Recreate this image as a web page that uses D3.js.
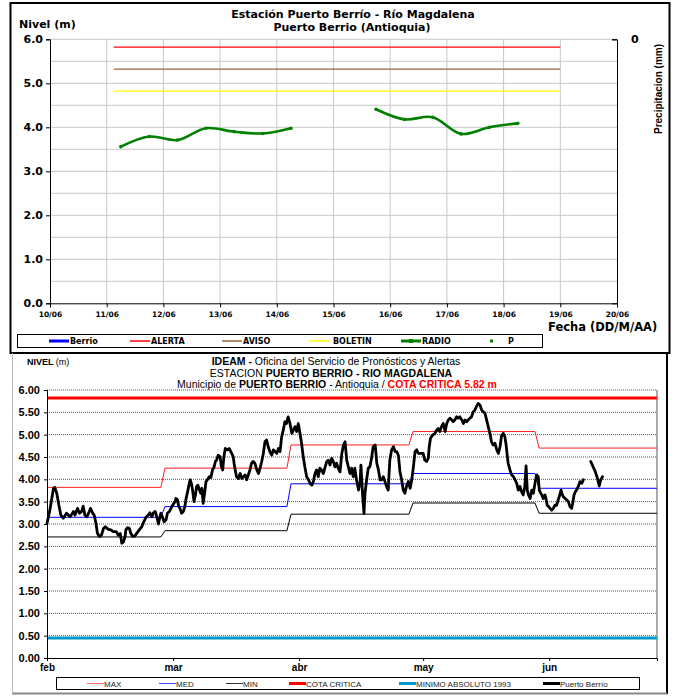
<!DOCTYPE html>
<html>
<head>
<meta charset="utf-8">
<script src="https://cdn.jsdelivr.net/npm/d3@7"></script>
<style>
  body { margin: 0; background: #fff; }
  text { font-family: "Liberation Sans", Arial, sans-serif; }
  .dv { font-family: "DejaVu Sans", Verdana, sans-serif; font-weight: bold; }
</style>
</head>
<body>
<div id="chart"></div>
<script>
// ---------- Panel superior: nivel horario junio ----------
const diasTicks = ["2010-06-10","2010-06-11","2010-06-12","2010-06-13","2010-06-14","2010-06-15",
                   "2010-06-16","2010-06-17","2010-06-18","2010-06-19","2010-06-20"];
const radioFechas = ["2010-06-11 06:00","2010-06-11 18:00","2010-06-12 06:00","2010-06-12 18:00",
                     "2010-06-13 06:00","2010-06-13 18:00","2010-06-14 06:00","2010-06-14 18:00",
                     "2010-06-15 06:00","2010-06-15 18:00","2010-06-16 06:00","2010-06-16 18:00",
                     "2010-06-17 06:00","2010-06-17 18:00","2010-06-18 06:00"];
const radioNivel = [3.56, 3.79, 3.71, 3.98, 3.90, 3.86, 3.98, null, null, 4.41, 4.18, 4.23, 3.85, 4.00, 4.09];
const umbralNombre = ["ALERTA", "AVISO", "BOLETIN"];
const umbralValor = [5.82, 5.32, 4.82];
const umbralDesde = "2010-06-11 03:00";
const umbralHasta = "2010-06-19 00:00";
const nivelTicksTop = [0, 1, 2, 3, 4, 5, 6];
const legendaTop = ["Berrio", "ALERTA", "AVISO", "BOLETIN", "RADIO", "P"];

// ---------- Panel inferior: serie diaria feb-jun (dia del año) ----------
const mesesEtiq = ["feb", "mar", "abr", "may", "jun"];
const mesesTickDia = [31, 62, 93, 123.5, 154.5];
const mesesInicio = [31, 60, 91, 121, 152];
const mesesFin = [59, 90, 120, 151, 181];
const nivelMax = [3.82, 4.25, 4.77, 5.07, 4.70];
const nivelMed = [3.15, 3.39, 3.90, 4.13, 3.80];
const nivelMin = [2.71, 2.85, 3.22, 3.47, 3.24];
const cotaCritica = 5.82;
const minimoAbs1993 = 0.45;
const berrioDia = [
  31.0,31.7,32.6,32.9,33.4,33.9,34.4,35.0,35.8,36.7,37.5,37.9,38.5,39.0,39.5,39.9,40.3,40.8,41.4,41.7,
  42.2,42.6,43.05,43.4,43.9,44.4,44.9,45.35,46.1,46.7,47.3,48.0,48.55,49.0,49.4,49.8,50.2,50.4,50.8,51.25,
  51.6,52.1,52.6,53.05,53.7,54.3,54.7,55.35,55.9,56.3,56.8,57.15,57.6,58.0,58.4,58.6,59.0,59.4,59.8,60.3,
  60.6,61.1,61.7,62.1,62.5,62.7,63.05,63.4,63.7,64.1,64.5,64.9,65.2,65.5,65.9,66.2,66.5,66.8,67.15,67.5,
  67.8,68.1,68.5,68.8,69.1,69.4,69.8,70.1,70.5,70.9,71.3,71.7,72.1,72.4,72.7,73.1,73.55,73.9,74.2,74.5,
  74.85,75.35,75.8,76.2,76.8,77.0,77.2,77.6,78.05,78.5,78.9,79.3,79.7,80.1,80.5,80.9,81.3,81.7,82.1,82.6,
  83.0,83.4,83.8,84.2,84.6,85.0,85.4,85.8,86.25,86.65,87.1,87.5,87.9,88.3,88.7,89.1,89.5,89.9,90.3,90.75,
  91.2,91.6,92.0,92.4,92.8,93.2,93.6,94.0,94.4,94.85,95.3,95.7,96.1,96.5,96.9,97.3,97.7,98.1,98.5,98.95,
  99.4,99.8,100.2,100.6,101.0,101.4,101.8,102.2,102.6,103.05,103.5,103.9,104.3,104.7,105.1,105.5,105.9,106.3,106.7,107.1,
  107.6,108.0,108.2,108.6,108.95,109.2,109.6,110.0,110.4,110.8,111.2,111.7,112.1,112.5,112.9,113.3,113.7,114.1,114.5,114.9,
  115.3,115.75,116.2,116.6,117.0,117.4,117.8,118.2,118.6,119.0,119.4,119.85,120.3,120.7,121.1,121.5,121.9,122.3,123.5,123.9,
  124.35,124.75,125.0,125.3,125.8,126.4,126.8,127.2,127.6,128.0,128.45,128.9,129.3,129.7,130.1,130.5,130.9,131.3,131.7,132.1,
  132.5,133.0,133.4,133.8,134.2,134.6,135.0,135.4,135.8,136.2,136.6,137.05,137.5,137.9,138.3,138.7,139.1,139.5,139.9,140.3,
  140.7,141.15,141.6,142.0,142.4,142.8,143.2,143.6,143.9,144.2,144.4,144.85,145.25,145.7,146.1,146.5,146.9,147.3,147.7,148.1,
  148.5,148.8,149.1,149.4,149.8,150.2,150.6,151.0,151.4,151.8,152.05,152.4,152.7,153.0,153.45,153.7,154.0,154.35,154.7,155.1,
  155.5,155.9,156.3,156.7,157.1,157.4,157.6,157.95,158.4,158.8,159.2,159.6,160.0,160.25,160.6,160.9,161.2,161.65,162.05,162.5,
  162.9,163.8,164.7,165.75,166.3,166.8,167.1,167.6
];
const berrioNivel = [
  3.01,3.31,3.80,3.82,3.69,3.43,3.20,3.13,3.24,3.16,3.28,3.20,3.35,3.24,3.28,3.40,3.20,3.16,3.28,3.35,
  3.25,3.20,3.01,2.79,2.72,2.75,2.90,2.94,2.88,2.87,2.83,2.83,2.75,2.79,2.57,2.60,2.72,2.87,2.92,2.90,
  2.79,2.72,2.73,2.79,2.87,2.94,3.03,3.15,3.20,3.25,3.16,3.25,3.28,3.16,3.00,3.09,3.24,3.15,3.05,3.10,
  3.24,3.28,3.39,3.45,3.50,3.57,3.55,3.39,3.35,3.24,3.28,3.39,3.57,3.69,3.87,3.99,3.91,3.76,3.50,3.65,
  3.84,3.87,3.76,3.69,3.80,3.46,3.72,3.95,4.00,4.06,4.04,4.21,4.28,4.40,4.43,4.54,4.51,4.28,4.21,4.51,
  4.69,4.66,4.69,4.62,4.51,4.36,4.25,4.06,4.02,4.13,4.02,4.06,4.10,3.99,4.10,4.21,4.36,4.40,4.36,4.21,
  4.13,4.25,4.40,4.58,4.84,4.88,4.73,4.62,4.54,4.66,4.62,4.58,4.69,4.62,4.95,5.10,5.29,5.25,5.40,5.25,
  5.03,5.10,5.18,5.07,5.25,5.03,4.81,4.51,4.28,4.06,3.99,3.91,3.87,3.95,4.13,4.21,4.06,4.25,4.21,4.13,
  4.28,4.40,4.43,4.32,4.47,4.40,4.28,4.36,4.25,4.17,4.58,4.77,4.84,4.43,4.28,4.13,4.25,4.06,4.25,3.99,
  3.76,3.95,4.32,3.65,3.24,3.69,3.99,4.25,4.28,4.47,4.73,4.77,4.36,4.21,3.99,3.99,4.06,3.95,3.84,3.76,
  4.43,4.66,4.73,4.62,4.62,4.54,4.17,3.99,3.76,3.69,3.84,3.95,3.80,3.99,4.28,4.62,4.66,4.58,4.58,4.43,
  4.40,4.47,4.73,4.92,4.99,5.03,5.10,5.14,5.07,5.18,5.25,5.07,5.25,5.33,5.37,5.33,5.29,5.33,5.40,5.37,
  5.40,5.33,5.25,5.33,5.29,5.33,5.37,5.40,5.51,5.55,5.63,5.70,5.66,5.55,5.51,5.48,5.33,5.18,5.03,4.84,
  4.77,4.81,4.66,4.58,4.73,4.99,5.03,4.95,4.77,4.51,4.36,4.21,4.10,4.06,3.99,3.91,3.76,3.84,3.72,3.65,
  3.84,4.30,3.76,3.65,3.57,3.76,3.69,3.91,4.10,4.06,3.76,3.69,3.65,3.57,3.65,3.57,3.42,3.39,3.35,3.31,
  3.35,3.42,3.42,3.54,3.65,3.76,3.69,3.61,3.57,3.54,3.50,3.39,3.35,3.46,3.65,3.72,3.76,3.84,3.95,3.91,
  3.99,null,4.40,4.19,4.04,3.85,3.97,4.06
];
const nivelTicksBot = d3.range(0, 6.01, 0.5);
const legendaBot = ["MAX", "MED", "MIN", "COTA CRITICA", "MINIMO ABSOLUTO 1993", "Puerto Berrío"];

const W = 677, H = 696;
const svg = d3.select("#chart").append("svg").attr("width", W).attr("height", H);
const parse = d3.timeParse("%Y-%m-%d %H:%M");
const parseDia = d3.timeParse("%Y-%m-%d");

// ================= TOP PANEL =================
const pTop = svg.append("g");
pTop.append("rect").attr("x", 10.5).attr("y", 3).attr("width", 659).attr("height", 350)
  .attr("fill", "none").attr("stroke", "#000").attr("stroke-width", 2);

const xT = d3.scaleTime()
  .domain([parseDia(diasTicks[0]), parseDia(diasTicks[diasTicks.length - 1])])
  .range([50, 617]);
const yT = d3.scaleLinear().domain([0, 6]).range([303.3, 39.3]);

// grid
pTop.append("g").selectAll("line").data(d3.range(0.5, 6.01, 0.5)).join("line")
  .attr("x1", 50).attr("x2", 617).attr("y1", d => yT(d)).attr("y2", d => yT(d))
  .attr("stroke", "#c8c8c8");
pTop.append("g").selectAll("line").data(diasTicks.slice(1, -1)).join("line")
  .attr("x1", d => xT(parseDia(d))).attr("x2", d => xT(parseDia(d)))
  .attr("y1", yT(6)).attr("y2", yT(0)).attr("stroke", "#c8c8c8");

const colUmbral = { ALERTA: "#ff0000", AVISO: "#996633", BOLETIN: "#ffff00" };
pTop.append("g").selectAll("line").data(umbralNombre).join("line")
  .attr("x1", xT(parse(umbralDesde))).attr("x2", xT(parse(umbralHasta)))
  .attr("y1", (d, i) => yT(umbralValor[i])).attr("y2", (d, i) => yT(umbralValor[i]))
  .attr("stroke", d => colUmbral[d]).attr("stroke-width", 1.2);

const radio = radioFechas.map((f, i) => ({ t: parse(f), v: radioNivel[i] }));
pTop.append("path").datum(radio)
  .attr("fill", "none").attr("stroke", "#008000").attr("stroke-width", 2.6)
  .attr("d", d3.line().defined(d => d.v != null).x(d => xT(d.t)).y(d => yT(d.v))
    .curve(d3.curveCatmullRom.alpha(0.5)));
pTop.append("g").selectAll("circle").data(radio.filter(d => d.v != null)).join("circle")
  .attr("cx", d => xT(d.t)).attr("cy", d => yT(d.v)).attr("r", 1.8).attr("fill", "#008000");

// axes
const axL = pTop.append("g").attr("transform", "translate(50,0)")
  .call(d3.axisLeft(yT).tickValues(nivelTicksTop).tickFormat(d3.format(".1f")).tickSize(4).tickPadding(3));
axL.selectAll("text").attr("class", "dv").style("font-size", "11px");
const axB = pTop.append("g").attr("transform", `translate(0,${yT(0)})`)
  .call(d3.axisBottom(xT).tickValues(diasTicks.map(parseDia)).tickFormat(d3.timeFormat("%d/%m")).tickSize(4).tickPadding(4));
axB.selectAll("text").attr("class", "dv").style("font-size", "7.5px");
const yP = d3.scaleLinear().domain([0, 1]).range([yT(6), yT(0)]);
const axR = pTop.append("g").attr("transform", "translate(617,0)")
  .call(d3.axisRight(yP).tickValues([0]).tickFormat(d3.format("d")).tickSize(-5).tickPadding(14));
axR.selectAll("text").attr("class", "dv").style("font-size", "11px");
pTop.selectAll(".domain, .tick line").attr("stroke", "#000");

pTop.append("text").attr("class", "dv").attr("x", 19).attr("y", 28).style("font-size", "11px").text("Nivel (m)");
pTop.append("text").attr("class", "dv").attr("x", 353).attr("y", 18).attr("text-anchor", "middle")
  .style("font-size", "11px").text("Estación Puerto Berrío - Río Magdalena");
pTop.append("text").attr("class", "dv").attr("x", 352).attr("y", 31).attr("text-anchor", "middle")
  .style("font-size", "11px").text("Puerto Berrio (Antioquia)");
pTop.append("text").attr("transform", "translate(662,89) rotate(-90)").attr("text-anchor", "middle")
  .style("font-size", "10px").style("font-weight", "bold").text("Precipitacion (mm)");
pTop.append("text").attr("class", "dv").attr("x", 548).attr("y", 331).style("font-size", "11.5px")
  .text("Fecha (DD/M/AA)");

// legend top
const lgT = pTop.append("g");
lgT.append("rect").attr("x", 17.5).attr("y", 334.5).attr("width", 525).attr("height", 13)
  .attr("fill", "#fff").attr("stroke", "#000");
const lgTpos = [49, 130, 222, 309, 401, 486];
const lgTcol = ["#0000ff", "#ff0000", "#996633", "#ffff00", "#008000", "#008000"];
legendaTop.forEach((name, i) => {
  const g = lgT.append("g").attr("transform", `translate(${lgTpos[i]},341)`);
  if (name === "P") {
    g.append("rect").attr("x", 4).attr("y", -1.5).attr("width", 3).attr("height", 3).attr("fill", lgTcol[i]);
    g.append("text").attr("class", "dv").attr("x", 22).attr("y", 3).style("font-size", "8px").text(name);
  } else {
    g.append("line").attr("x1", 0).attr("x2", 20).attr("stroke", lgTcol[i])
      .attr("stroke-width", name === "Berrio" || name === "RADIO" ? 3 : 1.5);
    if (name === "RADIO") g.append("rect").attr("x", 8).attr("y", -2).attr("width", 4).attr("height", 4).attr("fill", lgTcol[i]);
    g.append("text").attr("class", "dv").attr("x", name === "BOLETIN" ? 24 : 21).attr("y", 3).style("font-size", "8px").text(name);
  }
});

// ================= BOTTOM PANEL =================
const pBot = svg.append("g");
pBot.append("line").attr("x1", 667).attr("x2", 667).attr("y1", 353).attr("y2", 694).attr("stroke", "#000").attr("stroke-width", 2);
pBot.append("line").attr("x1", 12).attr("x2", 667).attr("y1", 693.5).attr("y2", 693.5).attr("stroke", "#888").attr("stroke-width", 2);
pBot.append("line").attr("x1", 12.5).attr("x2", 12.5).attr("y1", 353).attr("y2", 694).attr("stroke", "#bbb");

const xB = d3.scaleLinear().domain([31, 181]).range([47, 657]);
const yB = d3.scaleLinear().domain([0, 6]).range([658, 390]);

pBot.append("g").selectAll("line").data(nivelTicksBot.filter(d => d > 0)).join("line")
  .attr("x1", 47).attr("x2", 657).attr("y1", d => yB(d)).attr("y2", d => yB(d))
  .attr("stroke", "#555").attr("stroke-dasharray", "1,1");
pBot.append("line").attr("x1", 657).attr("x2", 657).attr("y1", yB(6)).attr("y2", yB(0))
  .attr("stroke", "#aaa").attr("stroke-width", 2);

const lineB = d3.line().defined(d => d[1] != null).x(d => xB(d[0])).y(d => yB(d[1]));
const escalon = vals => vals.flatMap((v, i) => [[mesesInicio[i], v], [mesesFin[i], v]]);

pBot.append("path").datum([[31, minimoAbs1993], [181, minimoAbs1993]]).attr("d", lineB)
  .attr("fill", "none").attr("stroke", "#0099cc").attr("stroke-width", 3);
pBot.append("path").datum([[31, cotaCritica], [181, cotaCritica]]).attr("d", lineB)
  .attr("fill", "none").attr("stroke", "#ff0000").attr("stroke-width", 3);
pBot.append("path").datum(escalon(nivelMax)).attr("d", lineB).attr("fill", "none").attr("stroke", "#ff2020").attr("stroke-width", 1);
pBot.append("path").datum(escalon(nivelMed)).attr("d", lineB).attr("fill", "none").attr("stroke", "#0000ff").attr("stroke-width", 1);
pBot.append("path").datum(escalon(nivelMin)).attr("d", lineB).attr("fill", "none").attr("stroke", "#000").attr("stroke-width", 1);

pBot.append("path").datum(berrioDia.map((d, i) => [d, berrioNivel[i]])).attr("d", lineB)
  .attr("fill", "none").attr("stroke", "#000").attr("stroke-width", 2.8)
  .attr("stroke-linejoin", "round").attr("stroke-linecap", "round");

const axBL = pBot.append("g").attr("transform", "translate(47,0)")
  .call(d3.axisLeft(yB).tickValues(nivelTicksBot).tickFormat(d3.format(".2f")).tickSize(3).tickPadding(4));
axBL.selectAll("text").style("font-size", "11px").style("font-weight", "bold");
const axBB = pBot.append("g").attr("transform", `translate(0,${yB(0)})`)
  .call(d3.axisBottom(xB).tickValues(mesesTickDia).tickFormat((d, i) => mesesEtiq[i]).tickSize(3).tickPadding(3));
axBB.selectAll("text").style("font-size", "10px").style("font-weight", "bold");
pBot.selectAll(".domain, .tick line").attr("stroke", "#000");

const nivel = pBot.append("text").attr("x", 27).attr("y", 365).style("font-size", "9px");
nivel.append("tspan").style("font-weight", "bold").text("NIVEL ");
nivel.append("tspan").text("(m)");

const t1 = pBot.append("text").attr("x", 336).attr("y", 365).attr("text-anchor", "middle").style("font-size", "10.5px");
t1.append("tspan").style("font-weight", "bold").text("IDEAM - ");
t1.append("tspan").text("Oficina del Servicio de Pronósticos y Alertas");
const t2 = pBot.append("text").attr("x", 331).attr("y", 376.5).attr("text-anchor", "middle").style("font-size", "10.5px");
t2.append("tspan").text("ESTACION ");
t2.append("tspan").style("font-weight", "bold").text("PUERTO BERRIO  - RIO MAGDALENA");
const t3 = pBot.append("text").attr("x", 337).attr("y", 388).attr("text-anchor", "middle").style("font-size", "10.5px");
t3.append("tspan").text("Municipio de ");
t3.append("tspan").style("font-weight", "bold").text("PUERTO BERRIO");
t3.append("tspan").text(" - Antioquia  /  ");
t3.append("tspan").style("font-weight", "bold").attr("fill", "#ff0000").text("COTA CRITICA 5.82 m");

// legend bottom
const lgB = pBot.append("g");
lgB.append("rect").attr("x", 56.5).attr("y", 677.5).attr("width", 583).attr("height", 12)
  .attr("fill", "#fff").attr("stroke", "#000");
const lgBpos = [87, 159, 226, 289, 399, 543];
const lgBcol = ["#ff6060", "#4040ff", "#333", "#ff0000", "#0099cc", "#000"];
const lgBw = [1, 1, 1, 3, 3, 3];
legendaBot.forEach((name, i) => {
  const g = lgB.append("g").attr("transform", `translate(${lgBpos[i]},683.5)`);
  g.append("line").attr("x1", 0).attr("x2", 17).attr("stroke", lgBcol[i]).attr("stroke-width", lgBw[i]);
  g.append("text").attr("x", 17).attr("y", 3).style("font-size", "8px").attr("fill", "#222").text(name);
});
</script>
</body>
</html>
